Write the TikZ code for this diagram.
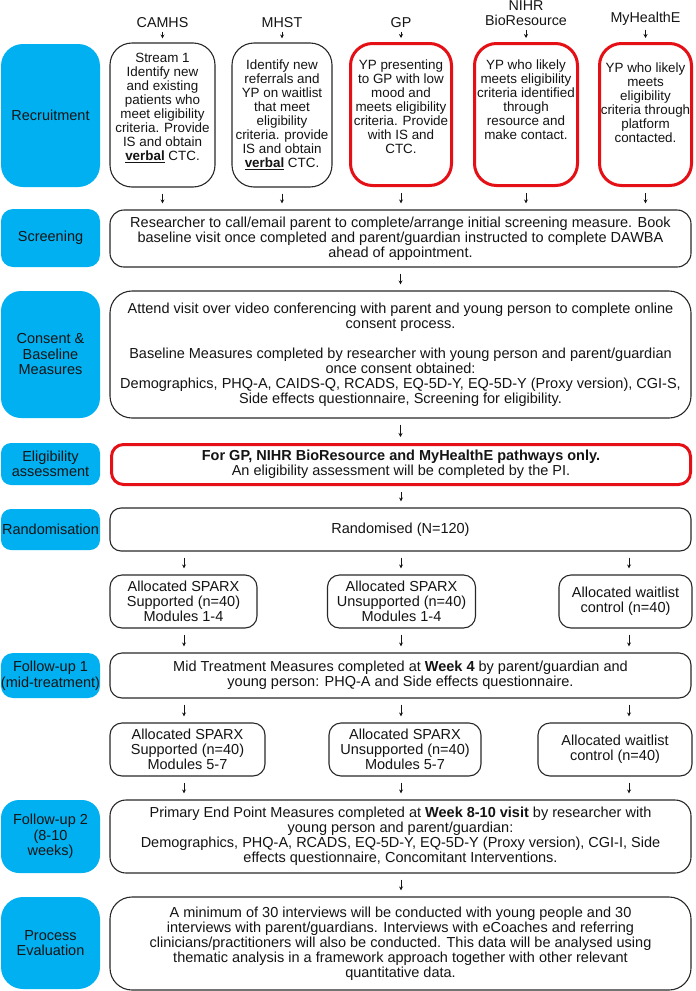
\documentclass[tikz,border=0pt]{standalone}
\usepackage{fontspec}
\setmainfont{Liberation Sans}
\usetikzlibrary{arrows.meta}
\definecolor{sky}{RGB}{0,176,240}
\definecolor{redline}{RGB}{228,16,22}
\definecolor{ink}{RGB}{20,20,20}
\definecolor{edge}{RGB}{40,40,40}
\begin{document}
\begin{tikzpicture}[x=1pt,y=-1pt,
  phase/.style={fill=sky, draw=none, text=ink, align=center, inner sep=0pt,
    font=\fontsize{14.5}{15.5}\selectfont},
  wbox/.style={draw=edge, line width=1.1pt, fill=white, text=ink, align=center, inner sep=0pt,
    font=\fontsize{14.5}{15}\selectfont},
  rbox/.style={draw=redline, line width=3pt, fill=white, text=ink, align=center, inner sep=0pt,
    font=\fontsize{14.5}{15}\selectfont},
  rtxt/.style={text=ink, align=center, inner sep=0pt, font=\fontsize{13.4}{14}\selectfont},
  src/.style={text=ink, align=center, inner sep=0pt, anchor=south, font=\fontsize{14.3}{15}\selectfont},
  arr/.style={draw=ink, line width=0.8pt, -{Stealth[length=4pt,width=4pt]}, shorten <=6pt, shorten >=6pt},
  larr/.style={draw=ink, line width=0.8pt, -{Stealth[length=4pt,width=4pt]}, shorten <=4pt, shorten >=4pt}
]
\useasboundingbox (0,0) rectangle (696,991);

% ---------- phase labels (blue) ----------
\node[phase, rounded corners=22pt, minimum width=99pt, minimum height=143pt] (pRec) at (50.5,115.5) {Recruitment};
\node[phase, rounded corners=12pt, minimum width=99pt, minimum height=58pt] (pScr) at (50.5,238) {Screening};
\node[phase, rounded corners=20pt, minimum width=99pt, minimum height=127pt] (pCon) at (50.5,354.5) {Consent \&\\Baseline\\Measures};
\node[phase, rounded corners=10pt, minimum width=99pt, minimum height=42pt] (pEli) at (50.5,464) {Eligibility\\assessment};
\node[phase, rounded corners=10pt, minimum width=99pt, minimum height=41pt] (pRan) at (50.5,529.5) {Randomisation};
\node[phase, rounded corners=12pt, minimum width=99pt, minimum height=45pt] (pFu1) at (50.5,675.5) {Follow-up 1\\(mid-treatment)};
\node[phase, rounded corners=18pt, minimum width=99pt, minimum height=73pt] (pFu2) at (50.5,836.5) {Follow-up 2\\(8-10\\weeks)};
\node[phase, rounded corners=22pt, minimum width=99pt, minimum height=92pt] (pPro) at (50.5,943) {Process\\Evaluation};

% ---------- sources ----------
\node[src] (lCamhs) at (162.5,27.7) {CAMHS};
\node[src] (lMhst) at (282,27.7) {MHST};
\node[src] (lGp) at (401,27.7) {GP};
\node[src] (lNihr) at (526,25.7) {NIHR\\BioResource};
\node[src] (lMyh) at (645.5,25.7) {MyHealthE};

% ---------- recruitment boxes ----------
\node[wbox, rounded corners=22pt, minimum width=105pt, minimum height=144pt] (camhs) at (162.5,115) {};
\node[wbox, rounded corners=22pt, minimum width=100pt, minimum height=144pt] (mhst) at (282,115) {};
\node[rbox, rounded corners=22pt, minimum width=101pt, minimum height=142pt] (gp) at (401,114.5) {};
\node[rbox, rounded corners=22pt, minimum width=103pt, minimum height=142pt] (nihr) at (526,114.5) {};
\node[rbox, rounded corners=22pt, minimum width=92pt, minimum height=142pt] (myh) at (645.5,114.5) {};

\node[rtxt] (camhsT) at (162.5,108) {Stream 1\\Identify new\\and existing\\patients who\\meet eligibility\\criteria. Provide\\IS and obtain\\\underline{\textbf{verbal}} CTC.};
\node[rtxt] (mhstT) at (282,114.5) {Identify new\\referrals and\\YP on waitlist\\that meet\\eligibility\\criteria. provide\\IS and obtain\\\underline{\textbf{verbal}} CTC.};
\node[rtxt] (gpT) at (401,106.5) {YP presenting\\to GP with low\\mood and\\meets eligibility\\criteria. Provide\\with IS and\\CTC.};
\node[rtxt] (nihrT) at (526,100) {YP who likely\\meets eligibility\\criteria identified\\through\\resource and\\make contact.};
\node[rtxt] (myhT) at (645.5,102.5) {YP who likely\\meets\\eligibility\\criteria through\\platform\\contacted.};

% ---------- main column ----------
\node[wbox, rounded corners=14pt, minimum width=581pt, minimum height=57pt] (screen) at (400.5,238.5)
  {Researcher to call/email parent to complete/arrange initial screening measure. Book\\baseline visit once completed and parent/guardian instructed to complete DAWBA\\ahead of appointment.};
\node[wbox, rounded corners=22pt, minimum width=581pt, minimum height=127pt] (consent) at (400.5,354.5)
  {Attend visit over video conferencing with parent and young person to complete online\\consent process.\\[15pt]Baseline Measures completed by researcher with young person and parent/guardian\\once consent obtained:\\Demographics, PHQ-A, CAIDS-Q, RCADS, EQ-5D-Y, EQ-5D-Y (Proxy version), CGI-S,\\Side effects questionnaire, Screening for eligibility.};
\node[rbox, rounded corners=12pt, minimum width=579pt, minimum height=40pt] (elig) at (401,464.5)
  {\textbf{For GP, NIHR BioResource and MyHealthE pathways only.}\\An eligibility assessment will be completed by the PI.};
\node[wbox, rounded corners=11pt, minimum width=581pt, minimum height=43pt] (rand) at (400.5,529.5) {Randomised (N=120)};

% ---------- arms, first part ----------
\coordinate (colL) at (184,0);
\coordinate (colM) at (401,0);
\coordinate (colR) at (629,0);
\node[wbox, rounded corners=12pt, minimum width=147pt, minimum height=53pt] (a1) at (183.5,601.5) {Allocated SPARX\\Supported (n=40)\\Modules 1-4};
\node[wbox, rounded corners=12pt, minimum width=148pt, minimum height=53pt] (a2) at (401.5,601.5) {Allocated SPARX\\Unsupported (n=40)\\Modules 1-4};
\node[wbox, rounded corners=12pt, minimum width=133pt, minimum height=53pt] (a3) at (625.5,601.5) {Allocated waitlist\\control (n=40)};

\node[wbox, rounded corners=12pt, minimum width=581pt, minimum height=45pt] (mid) at (400.5,675.5)
  {Mid Treatment Measures completed at \textbf{Week 4} by parent/guardian and\\young person: PHQ-A and Side effects questionnaire.};

% ---------- arms, second part ----------
\node[wbox, rounded corners=12pt, minimum width=155pt, minimum height=53pt] (b1) at (187.5,749.5) {Allocated SPARX\\Supported (n=40)\\Modules 5-7};
\node[wbox, rounded corners=12pt, minimum width=152pt, minimum height=53pt] (b2) at (405,749.5) {Allocated SPARX\\Unsupported (n=40)\\Modules 5-7};
\node[wbox, rounded corners=12pt, minimum width=154pt, minimum height=53pt] (b3) at (615,749.5) {Allocated waitlist\\control (n=40)};

\node[wbox, rounded corners=16pt, minimum width=581pt, minimum height=73pt] (endpt) at (400.5,836.5)
  {Primary End Point Measures completed at \textbf{Week 8-10 visit} by researcher with\\young person and parent/guardian:\\Demographics, PHQ-A, RCADS, EQ-5D-Y, EQ-5D-Y (Proxy version), CGI-I, Side\\effects questionnaire, Concomitant Interventions.};
\node[wbox, rounded corners=22pt, minimum width=581pt, minimum height=93pt] (proc) at (400.5,943.5)
  {A minimum of 30 interviews will be conducted with young people and 30\\interviews with parent/guardians. Interviews with eCoaches and referring\\clinicians/practitioners will also be conducted. This data will be analysed using\\thematic analysis in a framework approach together with other relevant\\quantitative data.};

% ---------- connectors ----------
\foreach \l/\b in {lCamhs/camhs, lMhst/mhst, lGp/gp, lNihr/nihr, lMyh/myh}
  \draw[larr] (\l.south) -- (\l.south |- \b.north);
\foreach \b in {camhs, mhst, gp, nihr, myh}
  \draw[arr] (\b.south) -- (\b.south |- screen.north);
\draw[arr] (screen.south) -- (consent.north);
\draw[arr] (consent.south) -- (consent.south |- elig.north);
\draw[arr] (elig.south -| colM) -- (colM |- rand.north);
\foreach \c/\b in {colL/a1, colM/a2, colR/a3} {
  \draw[arr] (\c |- rand.south) -- (\c |- \b.north);
  \draw[arr] (\c |- \b.south) -- (\c |- mid.north);
}
\foreach \c/\b in {colL/b1, colM/b2, colR/b3} {
  \draw[arr] (\c |- mid.south) -- (\c |- \b.north);
  \draw[arr] (\c |- \b.south) -- (\c |- endpt.north);
}
\draw[arr] (endpt.south -| colM) -- (colM |- proc.north);
\end{tikzpicture}
\end{document}
